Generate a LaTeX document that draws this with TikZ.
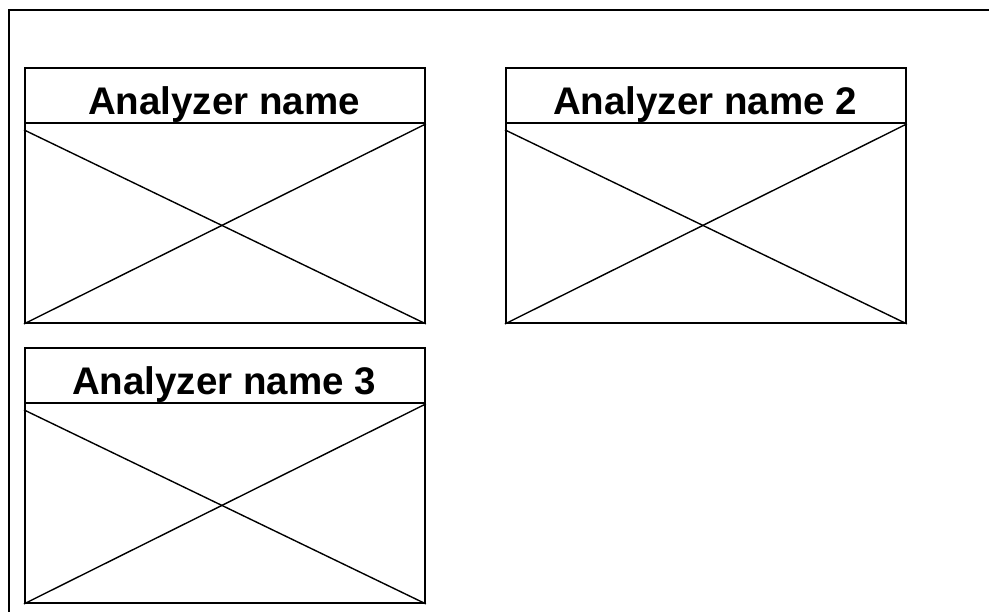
\documentclass[tikz,border=0pt]{standalone}
\usepackage{fontspec}
\setmainfont{Liberation Sans}
\usetikzlibrary{calc}
\begin{document}
\begin{tikzpicture}[x=1pt,y=-1pt,
  frame/.style={line width=2pt},
  panel/.style={draw, line width=1.9pt, minimum width=400pt, minimum height=255pt, inner sep=0pt, anchor=north west},
  titlebar/.style={draw, line width=1.9pt, minimum width=400pt, minimum height=55pt, inner sep=0pt, anchor=north west},
  heading/.style={font=\fontsize{38.5}{42}\selectfont\bfseries, anchor=base, inner sep=0pt},
  crossline/.style={line width=1.4pt}]
\useasboundingbox (0,0) rectangle (989,612);
\fill[white] (0,0) rectangle (989,612);
% outer window frame, only top and left edges fall inside the view
\draw[frame] (9,620) -- (9,10) -- (1000,10);

% analyzer panels: outline, title strip and crossed placeholder
\foreach \name/\px/\py/\label in {one/24/67/{Analyzer name}, two/505/67/{Analyzer name 2}, three/24/347/{Analyzer name 3}} {
  \node[panel] (\name) at (\px,\py) {};
  \node[titlebar] (\name-title) at (\px,\py) {};
  \node[heading, draw=none, text=black] (\name-text) at ($(\name-title.center)+(-1,19)$) {\label};
  \draw[crossline] ($(\name-title.south west)+(0,6)$) -- (\name.south east);
  \draw[crossline] (\name.south west) -- (\name-title.south east);
}
\end{tikzpicture}
\end{document}
